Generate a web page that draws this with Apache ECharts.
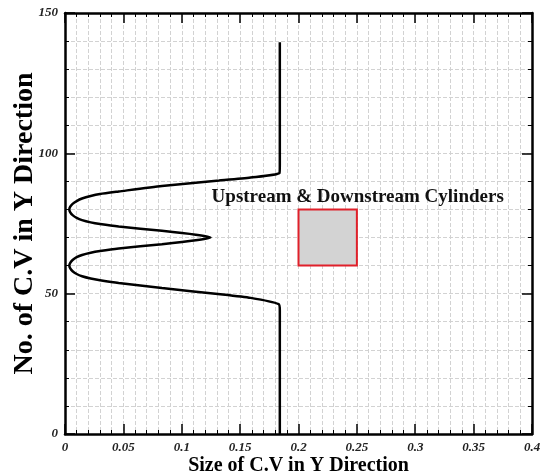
<!DOCTYPE html>
<html>
<head>
<meta charset="utf-8">
<script src="https://cdn.jsdelivr.net/npm/echarts@6/dist/echarts.min.js"></script>
<style>
html, body { margin: 0; padding: 0; background: #fff; }
#main { width: 541px; height: 475px; }
</style>
</head>
<body>
<div id="main"></div>
<script>
// size of control volume along the y direction vs its index
var cvSize = [0.184, 0.184, 0.183, 0.159, 0.133, 0.083, 0.046, 0.030, 0.022, 0.0146, 0.010, 0.0065, 0.0045,
    0.0037, 0.0045, 0.0065, 0.010, 0.0146, 0.022, 0.030, 0.046, 0.083, 0.112, 0.1246,
    0.112, 0.083, 0.046, 0.030, 0.022, 0.0146, 0.010, 0.0065, 0.0045, 0.0037,
    0.0045, 0.0065, 0.010, 0.0146, 0.022, 0.030, 0.046, 0.083, 0.132, 0.159, 0.1837, 0.184, 0.184]
var cvIndex = [0, 44, 46.3, 48.5, 49.8, 52.0, 53.8, 54.8, 55.4, 56.2, 57.0, 58.0, 59.0,
    60.0, 61.0, 62.0, 63.0, 63.8, 64.6, 65.2, 66.1, 67.6, 69.0, 70.0,
    71.0, 72.4, 73.9, 74.8, 75.4, 76.2, 77.0, 78.0, 79.0, 80.0,
    81.0, 82.0, 83.0, 83.9, 84.8, 85.5, 86.4, 88.4, 90.3, 91.4, 93.0, 96, 139.6]
var cylinderX = [0.2, 0.25]
var cylinderY = [60, 80]
var cylinderLabel = 'Upstream & Downstream Cylinders'
var labelPos = [0.2507, 84.5]

var lineData = []
for (var i = 0; i < cvSize.length; i++) {
    lineData.push([cvSize[i], cvIndex[i]])
}

var serif = '"Liberation Serif", "Times New Roman", serif'
var gridLine = {show: true, lineStyle: {color: '#d2d2d2', type: 'dashed', width: 1}}

function xAxisOf(pos, showLabel) {
    return {
        type: 'value', position: pos, min: 0, max: 0.4, interval: 0.05,
        axisLine: {show: true, onZero: false, lineStyle: {color: '#000', width: 2.5}},
        axisTick: {show: true, inside: true, length: 10, lineStyle: {color: '#000', width: 1.5}},
        minorTick: {show: true, splitNumber: 5, length: 4, lineStyle: {color: '#000', width: 1}},
        splitLine: showLabel ? gridLine : {show: false},
        minorSplitLine: showLabel ? gridLine : {show: false},
        axisLabel: {show: showLabel, margin: 7, color: '#222', fontFamily: serif, fontSize: 13,
            fontStyle: 'italic', fontWeight: 'bold'}
    }
}
function yAxisOf(pos, showLabel) {
    return {
        type: 'value', position: pos, min: 0, max: 150, interval: 50,
        axisLine: {show: true, onZero: false, lineStyle: {color: '#000', width: 2.5}},
        axisTick: {show: true, inside: true, length: 10, lineStyle: {color: '#000', width: 1.5}},
        minorTick: {show: true, splitNumber: 5, length: 4, lineStyle: {color: '#000', width: 1}},
        splitLine: showLabel ? gridLine : {show: false},
        minorSplitLine: showLabel ? gridLine : {show: false},
        axisLabel: {show: showLabel, margin: 7, color: '#222', fontFamily: serif, fontSize: 13,
            fontStyle: 'italic', fontWeight: 'bold'}
    }
}

var xBottom = xAxisOf('bottom', true)
xBottom.name = 'Size of C.V in Y Direction'
xBottom.nameLocation = 'middle'
xBottom.nameGap = 22
xBottom.nameMoveOverlap = false
xBottom.nameTextStyle = {color: '#000', fontFamily: serif, fontSize: 20, fontWeight: 'bold'}

var yLeft = yAxisOf('left', true)
yLeft.name = 'No. of C.V in Y Direction'
yLeft.nameLocation = 'middle'
yLeft.nameGap = 26
yLeft.nameMoveOverlap = false
yLeft.nameTextStyle = {color: '#000', fontFamily: serif, fontSize: 28, fontWeight: 'bold'}

var option = {
    animation: false,
    backgroundColor: '#fff',
    grid: {left: 65, right: 9, top: 13, bottom: 41, containLabel: false, outerBoundsMode: 'none'},
    xAxis: [xBottom, xAxisOf('top', false)],
    yAxis: [yLeft, yAxisOf('right', false)],
    series: [
        {
            type: 'line',
            data: lineData,
            smooth: 0.2,
            symbol: 'none',
            lineStyle: {color: '#000', width: 2.5},
            markArea: {
                silent: true,
                itemStyle: {color: '#d3d3d3', borderColor: '#e0202a', borderWidth: 2},
                data: [[{coord: [cylinderX[0], cylinderY[0]]}, {coord: [cylinderX[1], cylinderY[1]]}]]
            },
            markPoint: {
                silent: true,
                symbol: 'rect',
                symbolSize: 1,
                itemStyle: {color: 'rgba(0,0,0,0)'},
                label: {show: true, position: 'inside', formatter: cylinderLabel, color: '#111',
                    fontFamily: serif, fontSize: 19, fontWeight: 'bold'},
                data: [{coord: labelPos}]
            }
        }
    ]
}

var chart = echarts.init(document.getElementById('main'))
chart.setOption(option)
</script>
</body>
</html>
